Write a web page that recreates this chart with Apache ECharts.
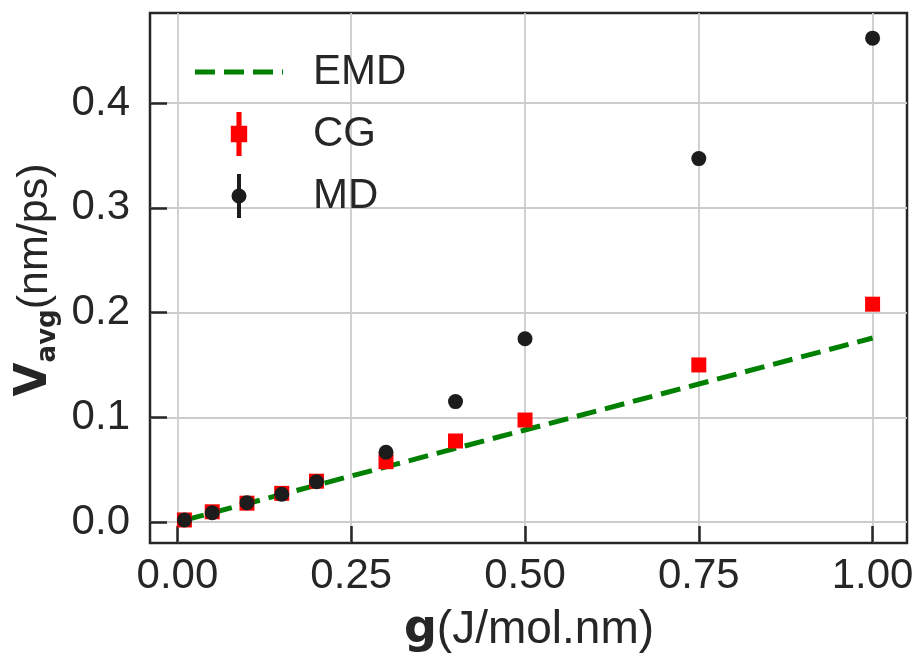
<!DOCTYPE html>
<html>
<head>
<meta charset="utf-8">
<script src="https://cdn.jsdelivr.net/npm/echarts@6/dist/echarts.min.js"></script>
<style>html,body{margin:0;padding:0;background:#fff;}#chart{width:919px;height:658px;}</style>
</head>
<body>
<div id="chart"></div>
<script>
const gValues = [0.01, 0.05, 0.1, 0.15, 0.2, 0.3, 0.4, 0.5, 0.75, 1.0];
const emdValues = [0.0018, 0.0088, 0.0176, 0.0264, 0.0352, 0.0527, 0.0703, 0.0879, 0.1318, 0.1757];
const cgValues = [0.002, 0.0098, 0.018, 0.0274, 0.039, 0.0576, 0.0774, 0.0974, 0.150, 0.208];
const mdValues = [0.002, 0.0089, 0.0184, 0.0265, 0.0385, 0.0666, 0.115, 0.175, 0.347, 0.462];
const xTicks = [0, 0.25, 0.5, 0.75, 1.0];
const yTicks = [0, 0.1, 0.2, 0.3, 0.4];
const seriesNames = ['EMD', 'CG', 'MD'];

const pairs = (ys) => gValues.map((g, i) => [g, ys[i]]);
const dark = '#262626';
const font = 'Liberation Sans, Arial, sans-serif';

const chart = echarts.init(document.getElementById('chart'), null, {renderer: 'canvas'});
chart.setOption({
  animation: false,
  backgroundColor: '#ffffff',
  grid: {left: 150, top: 13, right: 12, bottom: 115, show: true, borderColor: dark, borderWidth: 2.5, containLabel: false},
  legend: {
    orient: 'vertical', left: 190, top: 45, itemWidth: 88, itemHeight: 44, itemGap: 18,
    textStyle: {fontSize: 42, color: dark, fontFamily: font, padding: [0, 0, 0, 25], lineHeight: 44},
    data: [
      {name: seriesNames[0], icon: 'path://M0,0 H20 V5 H0 Z M29,0 H49 V5 H29 Z M58,0 H78 V5 H58 Z M87,0 H88 V5 H87 Z', itemStyle: {color: '#008000'}},
      {name: seriesNames[1], icon: 'path://M5.5,0 H10.5 V13.5 H16 V29.5 H10.5 V43 H5.5 V29.5 H0 V13.5 H5.5 Z', itemStyle: {color: '#ff0000'}},
      {name: seriesNames[2], icon: 'path://M6,0 H10 V44 H6 Z M8,14.5 A7.5,7.5 0 1 1 8,29.5 A7.5,7.5 0 1 1 8,14.5 Z', itemStyle: {color: '#1c1c1c'}}
    ]
  },
  xAxis: {
    type: 'value', min: -0.0395, max: 1.0495,
    axisLine: {show: false, onZero: false},
    axisTick: {show: true, inside: true, length: 17, customValues: xTicks, lineStyle: {color: dark, width: 2.5}},
    axisLabel: {customValues: xTicks, formatter: (v) => v.toFixed(2), fontSize: 42, color: dark, fontFamily: font, margin: 12},
    splitLine: {show: true, lineStyle: {color: '#cccccc', width: 1.8}}
  },
  yAxis: {
    type: 'value', min: -0.020, max: 0.486,
    axisLine: {show: false, onZero: false},
    axisTick: {show: true, inside: true, length: 17, customValues: yTicks, lineStyle: {color: dark, width: 2.5}},
    axisLabel: {customValues: yTicks, formatter: (v) => v.toFixed(1), fontSize: 42, color: dark, fontFamily: font, margin: 20},
    splitLine: {show: true, lineStyle: {color: '#cccccc', width: 1.8}}
  },
  series: [
    {name: seriesNames[0], type: 'line', data: pairs(emdValues), symbol: 'none', z: 2,
     lineStyle: {color: '#008000', width: 5, type: [20, 9]}, itemStyle: {color: '#008000'}},
    {name: seriesNames[1], type: 'scatter', data: pairs(cgValues), symbol: 'rect', symbolSize: 15, z: 3,
     itemStyle: {color: '#ff0000', opacity: 1}},
    {name: seriesNames[2], type: 'scatter', data: pairs(mdValues), symbol: 'circle', symbolSize: 15, z: 4,
     itemStyle: {color: '#1c1c1c', opacity: 1}}
  ],
  graphic: [
    {type: 'text', x: 35, y: 280, rotation: Math.PI / 2,
     style: {text: '{b|V}{s|avg}{r|(nm/ps)}', align: 'center', verticalAlign: 'middle', fill: dark,
       rich: {
         b: {fontSize: 44, fontWeight: 'bold', fontFamily: 'DejaVu Sans', fill: dark, lineHeight: 52},
         s: {fontSize: 26, fontWeight: 'bold', fontFamily: 'DejaVu Sans', fill: dark, lineHeight: 26, verticalAlign: 'bottom'},
         r: {fontSize: 43, fontFamily: font, fill: dark, lineHeight: 52}
       }}},
    {type: 'text', x: 529, y: 630,
     style: {text: '{b|g}{r|(J/mol.nm)}', align: 'center', verticalAlign: 'middle', fill: dark,
       rich: {
         b: {fontSize: 46, fontWeight: 'bold', fontFamily: 'DejaVu Sans', fill: dark, lineHeight: 56},
         r: {fontSize: 46, fontFamily: font, fill: dark, lineHeight: 56}
       }}}
  ]
});
</script>
</body>
</html>
